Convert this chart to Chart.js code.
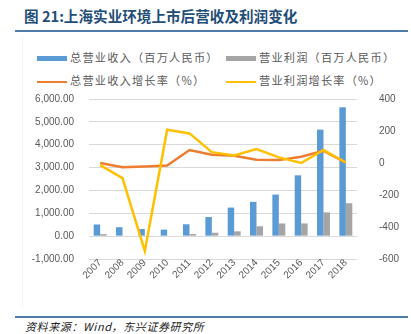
<!DOCTYPE html>
<html lang="zh">
<head>
<meta charset="UTF-8">
<script src="https://cdn.jsdelivr.net/npm/chart.js"></script>
<title>营收及利润变化</title>
<style>
  body { margin: 0; width: 411px; height: 334px; background: #fff; position: relative; overflow: hidden;
         font-family: "Noto Sans CJK SC", "Liberation Sans", sans-serif; }
  .title { position: absolute; left: 24px; top: 5px; font-size: 14.6px; font-weight: bold; color: #1f4e79; white-space: nowrap; }
  .rule { position: absolute; left: 15px; width: 393px; height: 2px; background: #4f7ca8; }
  .box { position: absolute; left: 22px; top: 37px; width: 385px; height: 270px; border-left: 1px solid #f4f4f4; }
  .legend { position: absolute; font-size: 11.2px; letter-spacing: 1.2px; color: #595959; white-space: nowrap; line-height: 14px; }
  .legend span.mark { display: inline-block; width: 30px; vertical-align: middle; margin-right: 3px; }
  .src { position: absolute; left: 25px; top: 318px; font-size: 11px; letter-spacing: 0.6px; font-style: italic; color: #222; white-space: nowrap; }
  #wrap { position: absolute; left: 0; top: 78px; width: 411px; height: 212px; }
</style>
</head>
<body>
<div class="title">图 21:上海实业环境上市后营收及利润变化</div>
<div class="rule" style="top:30px"></div>
<div class="box"></div>

<div class="legend" style="left:37px; top:50px"><span class="mark" style="height:5px;background:#5b9bd5"></span>总营业收入（百万人民币）</div>
<div class="legend" style="left:226px; top:50px"><span class="mark" style="height:5px;background:#a5a5a5"></span>营业利润（百万人民币）</div>
<div class="legend" style="left:37px; top:73px"><span class="mark" style="height:2px;background:#ed7d31"></span>总营业收入增长率（%）</div>
<div class="legend" style="left:226px; top:73px"><span class="mark" style="height:2px;background:#ffc000"></span>营业利润增长率（%）</div>

<div id="wrap"><canvas id="myChart"></canvas></div>

<div class="rule" style="top:316px"></div>
<div class="src">资料来源：Wind，东兴证券研究所</div>

<script>
const years = ['2007','2008','2009','2010','2011','2012','2013','2014','2015','2016','2017','2018'];
const revenue = [510, 390, 310, 285, 520, 835, 1250, 1500, 1820, 2660, 4660, 5640];
const profit = [90, 0, -15, 0, 90, 150, 210, 430, 555, 555, 1040, 1440];
const revenueGrowth = [0, -26, -22, -16, 81, 51, 45, 20, 18, 39, 76, 3];
const profitGrowth = [-13, -95, -550, 208, 185, 68, 47, 87, 35, 0, 81, 3];

const axisFont = { family: 'Liberation Sans', size: 10 };

new Chart(document.getElementById('myChart'), {
  type: 'bar',
  data: {
    labels: years,
    datasets: [
      { type: 'line', label: '营业利润增长率（%）', data: profitGrowth, yAxisID: 'y1',
        borderColor: '#ffc000', borderWidth: 2.5, pointRadius: 0, tension: 0, order: 0 },
      { type: 'line', label: '总营业收入增长率（%）', data: revenueGrowth, yAxisID: 'y1',
        borderColor: '#ed7d31', borderWidth: 2.5, pointRadius: 0, tension: 0, order: 1 },
      { label: '总营业收入（百万人民币）', data: revenue, yAxisID: 'y',
        backgroundColor: '#5b9bd5', barPercentage: 1, categoryPercentage: 0.58, order: 2 },
      { label: '营业利润（百万人民币）', data: profit, yAxisID: 'y',
        backgroundColor: '#a5a5a5', barPercentage: 1, categoryPercentage: 0.58, order: 3 }
    ]
  },
  options: {
    responsive: true,
    maintainAspectRatio: false,
    animation: false,
    layout: { padding: { top: 9, bottom: 5, left: 0, right: 0 } },
    plugins: { legend: { display: false }, tooltip: { enabled: false } },
    scales: {
      x: {
        grid: { display: false, drawTicks: false },
        border: { display: false },
        ticks: { color: '#595959', font: axisFont, minRotation: 45, maxRotation: 45, padding: -2 },
        afterFit: function (s) { s.height = 26; }
      },
      y: {
        position: 'left',
        min: -1000, max: 6000,
        grid: { color: '#d9d9d9', drawTicks: false },
        border: { display: false },
        ticks: { stepSize: 1000, color: '#595959', font: axisFont, padding: 15,
                 callback: v => v.toLocaleString('en-US', { minimumFractionDigits: 2, maximumFractionDigits: 2 }) },
        afterFit: function (s) { s.width = 89; }
      },
      y1: {
        position: 'right',
        min: -600, max: 400,
        grid: { display: false },
        border: { display: false },
        ticks: { stepSize: 200, color: '#595959', font: axisFont, padding: 14 },
        afterFit: function (s) { s.width = 54; }
      }
    }
  }
});
</script>
</body>
</html>
